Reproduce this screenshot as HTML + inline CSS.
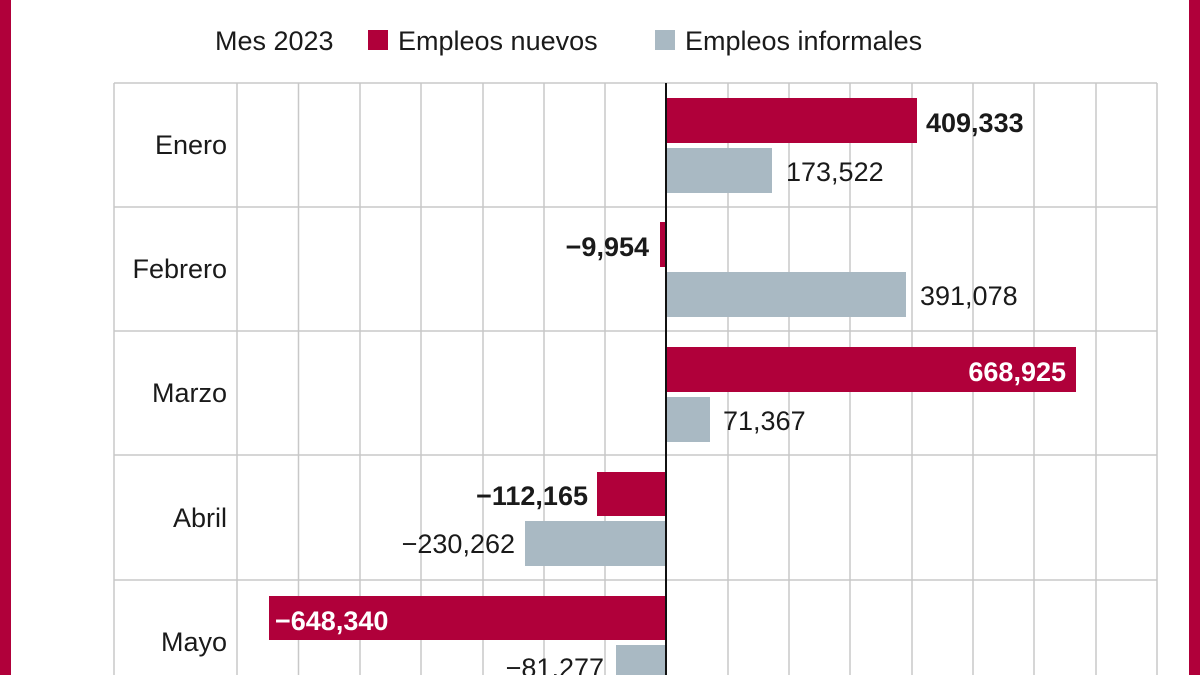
<!DOCTYPE html>
<html><head><meta charset="utf-8"><style>
html,body{margin:0;padding:0;background:#fff;width:1200px;height:675px;overflow:hidden}
svg{display:block}
text{font-family:"Liberation Sans",sans-serif;font-size:27px;fill:#1a1a1a}
.b{font-weight:bold}
.w{fill:#fff;font-weight:bold}
</style></head><body>
<svg width="1200" height="675" viewBox="0 0 1200 675">
<rect x="0" y="0" width="11" height="675" fill="#b0003a"/>
<rect x="1189" y="0" width="11" height="675" fill="#b0003a"/>
<text x="215" y="50">Mes 2023</text>
<rect x="368" y="30" width="20" height="20" fill="#b0003a"/>
<text x="398" y="50">Empleos nuevos</text>
<rect x="655" y="30" width="20" height="20" fill="#a9b9c3"/>
<text x="685" y="50">Empleos informales</text>
<g stroke="#c8c8c8" stroke-width="1.5">
<line x1="114" y1="83" x2="1157" y2="83"/>
<line x1="114" y1="207" x2="1157" y2="207"/>
<line x1="114" y1="331" x2="1157" y2="331"/>
<line x1="114" y1="455" x2="1157" y2="455"/>
<line x1="114" y1="580" x2="1157" y2="580"/>
<line x1="114" y1="83" x2="114" y2="675"/>
<line x1="237" y1="83" x2="237" y2="675"/>
<line x1="298.5" y1="83" x2="298.5" y2="675"/>
<line x1="360" y1="83" x2="360" y2="675"/>
<line x1="421" y1="83" x2="421" y2="675"/>
<line x1="483" y1="83" x2="483" y2="675"/>
<line x1="544" y1="83" x2="544" y2="675"/>
<line x1="605" y1="83" x2="605" y2="675"/>
<line x1="728" y1="83" x2="728" y2="675"/>
<line x1="789" y1="83" x2="789" y2="675"/>
<line x1="850" y1="83" x2="850" y2="675"/>
<line x1="912" y1="83" x2="912" y2="675"/>
<line x1="973" y1="83" x2="973" y2="675"/>
<line x1="1034" y1="83" x2="1034" y2="675"/>
<line x1="1096" y1="83" x2="1096" y2="675"/>
<line x1="1157" y1="83" x2="1157" y2="675"/>
</g>
<g text-anchor="end">
<text x="227" y="154">Enero</text>
<text x="227" y="278">Febrero</text>
<text x="227" y="402">Marzo</text>
<text x="227" y="527">Abril</text>
<text x="227" y="651">Mayo</text>
</g>
<!-- Enero -->
<rect x="666" y="98" width="251" height="45" fill="#b0003a"/>
<rect x="666" y="148" width="106" height="45" fill="#a9b9c3"/>
<text class="b" x="926" y="132">409,333</text>
<text x="786" y="181">173,522</text>
<!-- Febrero -->
<rect x="660" y="222" width="6" height="45" fill="#b0003a"/>
<rect x="666" y="272" width="240" height="45" fill="#a9b9c3"/>
<text class="b" x="649" y="256" text-anchor="end">−9,954</text>
<text x="920" y="305">391,078</text>
<!-- Marzo -->
<rect x="666" y="347" width="410" height="45" fill="#b0003a"/>
<rect x="666" y="397" width="44" height="45" fill="#a9b9c3"/>
<text class="w" x="1066" y="381" text-anchor="end">668,925</text>
<text x="723" y="430">71,367</text>
<!-- Abril -->
<rect x="597" y="472" width="69" height="44" fill="#b0003a"/>
<rect x="525" y="521" width="141" height="45" fill="#a9b9c3"/>
<text class="b" x="588" y="505" text-anchor="end">−112,165</text>
<text x="515" y="553" text-anchor="end">−230,262</text>
<!-- Mayo -->
<rect x="269" y="596" width="397" height="44" fill="#b0003a"/>
<rect x="616" y="645" width="50" height="45" fill="#a9b9c3"/>
<text class="w" x="275" y="630">−648,340</text>
<text x="604" y="677" text-anchor="end">−81,277</text>
<line x1="666" y1="83" x2="666" y2="675" stroke="#111" stroke-width="2"/>
</svg>
</body></html>
